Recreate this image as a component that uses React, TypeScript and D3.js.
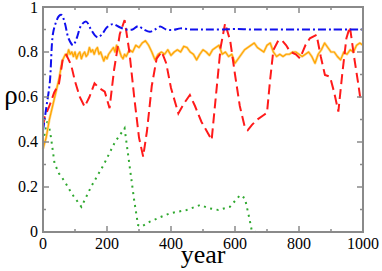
import * as d3 from "d3";
import { useEffect, useRef } from "react";

// year / rho samples
const blueYears = [0, 5, 11, 21, 31, 40, 50, 58, 68, 80, 94, 105, 120, 135, 150, 165, 172, 185, 200, 219, 240, 260, 280, 297, 315, 334, 350, 366, 385, 406, 430, 460, 491, 520, 560, 600, 650, 700, 800, 900, 1000];
const blueVals = [0.45, 0.5, 0.56, 0.66, 0.88, 0.93, 0.96, 0.965, 0.93, 0.86, 0.83, 0.86, 0.92, 0.935, 0.9, 0.87, 0.865, 0.88, 0.91, 0.924, 0.91, 0.9, 0.9, 0.915, 0.9, 0.89, 0.9, 0.913, 0.9, 0.898, 0.905, 0.9, 0.9, 0.9, 0.9, 0.902, 0.9, 0.9, 0.9, 0.9, 0.9];

const orangeYears = [0, 10, 20, 30, 40, 50, 60, 70, 75, 80, 85, 90, 95, 100, 105, 110, 115, 120, 125, 130, 135, 140, 145, 150, 155, 160, 165, 170, 175, 180, 185, 190, 195, 200, 205, 210, 215, 220, 225, 230, 235, 240, 245, 250, 255, 260, 270, 280, 290, 300, 310, 320, 330, 340, 350, 360, 370, 380, 390, 400, 410, 420, 430, 440, 450, 460, 470, 480, 490, 500, 510, 520, 530, 540, 550, 560, 570, 580, 590, 600, 610, 620, 630, 640, 650, 660, 670, 680, 690, 700, 710, 720, 730, 740, 750, 760, 770, 780, 790, 800, 810, 820, 830, 840, 850, 860, 870, 880, 890, 900, 910, 920, 930, 940, 950, 960, 970, 980, 990, 1000];
const orangeVals = [0.37, 0.42, 0.5, 0.56, 0.62, 0.68, 0.76, 0.79, 0.78, 0.81, 0.79, 0.8, 0.78, 0.8, 0.77, 0.79, 0.8, 0.77, 0.79, 0.8, 0.78, 0.79, 0.82, 0.8, 0.81, 0.79, 0.81, 0.82, 0.79, 0.8, 0.78, 0.76, 0.78, 0.77, 0.79, 0.8, 0.81, 0.82, 0.8, 0.83, 0.82, 0.8, 0.78, 0.77, 0.79, 0.78, 0.81, 0.8, 0.83, 0.82, 0.84, 0.85, 0.83, 0.8, 0.765, 0.79, 0.8, 0.79, 0.81, 0.785, 0.8, 0.81, 0.8, 0.825, 0.82, 0.8, 0.79, 0.765, 0.79, 0.81, 0.8, 0.785, 0.81, 0.82, 0.83, 0.79, 0.8, 0.78, 0.79, 0.75, 0.77, 0.79, 0.81, 0.82, 0.83, 0.84, 0.82, 0.81, 0.8, 0.83, 0.84, 0.8, 0.78, 0.79, 0.78, 0.79, 0.79, 0.8, 0.8, 0.79, 0.78, 0.79, 0.8, 0.78, 0.75, 0.79, 0.81, 0.84, 0.82, 0.8, 0.8, 0.78, 0.765, 0.8, 0.79, 0.81, 0.8, 0.83, 0.84, 0.83];

const redYears = [0, 5, 20, 35, 50, 62, 73, 88, 100, 115, 130, 145, 161, 175, 193, 208, 222, 240, 255, 270, 285, 300, 313, 325, 340, 355, 371, 385, 400, 423, 440, 459, 475, 495, 515, 527, 540, 555, 569, 585, 600, 615, 630, 640, 653, 670, 690, 700, 710, 720, 735, 746, 760, 772, 790, 803, 820, 834, 855, 868, 881, 897, 910, 923, 935, 948, 959, 972, 985, 991, 1000];
const redVals = [0.47, 0.51, 0.56, 0.62, 0.66, 0.77, 0.787, 0.742, 0.67, 0.6, 0.557, 0.6, 0.661, 0.64, 0.624, 0.55, 0.72, 0.88, 0.942, 0.8, 0.6, 0.42, 0.335, 0.45, 0.65, 0.77, 0.801, 0.75, 0.64, 0.527, 0.57, 0.609, 0.56, 0.49, 0.44, 0.409, 0.6, 0.82, 0.927, 0.85, 0.7, 0.56, 0.47, 0.453, 0.476, 0.5, 0.52, 0.53, 0.68, 0.809, 0.85, 0.853, 0.83, 0.801, 0.79, 0.772, 0.83, 0.861, 0.876, 0.78, 0.698, 0.69, 0.62, 0.535, 0.7, 0.86, 0.913, 0.78, 0.66, 0.601, 0.6];

const greenYears = [0, 8, 15, 25, 36, 50, 68, 90, 120, 150, 190, 225, 255, 270, 285, 297, 307, 334, 365, 397, 449, 491, 520, 548, 584, 616, 631, 645, 652, 665];
const greenVals = [0.37, 0.45, 0.5, 0.42, 0.305, 0.26, 0.224, 0.17, 0.112, 0.2, 0.3, 0.4, 0.461, 0.3, 0.14, 0.031, 0.024, 0.046, 0.065, 0.083, 0.098, 0.12, 0.105, 0.098, 0.112, 0.164, 0.15, 0.06, 0.009, 0];

const xTicks = [0, 200, 400, 600, 800, 1000];
const yTicks = [0, 0.2, 0.4, 0.6, 0.8, 1];
const xMinor = [100, 300, 500, 700, 900];
const yMinor = [0.1, 0.3, 0.5, 0.7, 0.9];

const App = () => {
  const ref = useRef<SVGSVGElement>(null);

  useEffect(() => {
    const svg = d3.select(ref.current);
    svg.selectAll("*").remove();
    const width = 382;
    const height = 271;
    const margin = { top: 7, right: 19, bottom: 39, left: 43 };
    const font = "'Liberation Serif', 'Times New Roman', serif";
    const frame = "#8a8a8a";

    const x = d3.scaleLinear().domain([0, 1000]).range([margin.left, width - margin.right]);
    const y = d3.scaleLinear().domain([0, 1]).range([height - margin.bottom, margin.top]);

    svg.attr("viewBox", [0, 0, width, height]);

    const zip = (xs: number[], ys: number[]) => xs.map((d, i) => [d, ys[i]] as [number, number]);
    const line = d3.line<[number, number]>().x((d) => x(d[0])).y((d) => y(d[1]));
    const smooth = d3.line<[number, number]>().x((d) => x(d[0])).y((d) => y(d[1])).curve(d3.curveCatmullRom);

    const g = svg.append("g").attr("fill", "none");

    // Green dotted
    g.append("path")
      .attr("d", line(zip(greenYears, greenVals)))
      .attr("stroke", "#2fa82f")
      .attr("stroke-width", 2)
      .attr("stroke-dasharray", "2,4.5");

    // Orange noisy line with soft halo
    g.append("path")
      .attr("d", line(zip(orangeYears, orangeVals)))
      .attr("stroke", "#ffd68a")
      .attr("stroke-width", 2.6)
      .attr("stroke-linejoin", "round");
    g.append("path")
      .attr("d", line(zip(orangeYears, orangeVals)))
      .attr("stroke", "#ffa500")
      .attr("stroke-width", 1.2)
      .attr("stroke-linejoin", "round");

    // Red dashed
    g.append("path")
      .attr("d", line(zip(redYears, redVals)))
      .attr("stroke", "#ff1a1a")
      .attr("stroke-width", 2)
      .attr("stroke-dasharray", "10,5");

    // Blue dash-dot
    g.append("path")
      .attr("d", smooth(zip(blueYears, blueVals)))
      .attr("stroke", "#1010ee")
      .attr("stroke-width", 2)
      .attr("stroke-dasharray", "8,3,2,3");

    // Frame
    svg.append("rect")
      .attr("x", x(0))
      .attr("y", y(1))
      .attr("width", x(1000) - x(0))
      .attr("height", y(0) - y(1))
      .attr("fill", "none")
      .attr("stroke", frame)
      .attr("stroke-width", 2);

    // Inward ticks on all four sides
    const ticks = svg.append("g").attr("stroke", frame).attr("stroke-width", 1.5);
    const addX = (vals: number[], len: number) => {
      vals.forEach((v) => {
        ticks.append("line").attr("x1", x(v)).attr("x2", x(v)).attr("y1", y(0)).attr("y2", y(0) - len);
        ticks.append("line").attr("x1", x(v)).attr("x2", x(v)).attr("y1", y(1)).attr("y2", y(1) + len);
      });
    };
    const addY = (vals: number[], len: number) => {
      vals.forEach((v) => {
        ticks.append("line").attr("y1", y(v)).attr("y2", y(v)).attr("x1", x(0)).attr("x2", x(0) + len);
        ticks.append("line").attr("y1", y(v)).attr("y2", y(v)).attr("x1", x(1000)).attr("x2", x(1000) - len);
      });
    };
    addX(xTicks, 6);
    addX(xMinor, 3);
    addY(yTicks, 6);
    addY(yMinor, 3);

    // Tick labels
    svg.append("g")
      .selectAll("text")
      .data(xTicks)
      .join("text")
      .attr("x", (d) => x(d))
      .attr("y", y(0) + 17)
      .attr("text-anchor", "middle")
      .attr("font-family", font)
      .attr("font-size", 16)
      .text((d) => String(d));

    svg.append("g")
      .selectAll("text")
      .data(yTicks)
      .join("text")
      .attr("x", x(0) - 5)
      .attr("y", (d) => Math.max(y(d) + 5, 13))
      .attr("text-anchor", "end")
      .attr("font-family", font)
      .attr("font-size", 16)
      .text((d) => (d === 0 || d === 1 ? String(d) : d.toFixed(1)));

    // Axis titles
    svg.append("text")
      .attr("x", (x(0) + x(1000)) / 2)
      .attr("y", 263)
      .attr("text-anchor", "middle")
      .attr("font-family", font)
      .attr("font-size", 26)
      .text("year");

    svg.append("text")
      .attr("x", 11)
      .attr("y", 104)
      .attr("text-anchor", "middle")
      .attr("font-family", font)
      .attr("font-size", 27)
      .text("ρ");
  }, []);

  return (
    <svg
      ref={ref}
      width={382}
      height={271}
      style={{ position: "absolute", left: 0, top: 0, background: "#fff" }}
    />
  );
};

export default App;
